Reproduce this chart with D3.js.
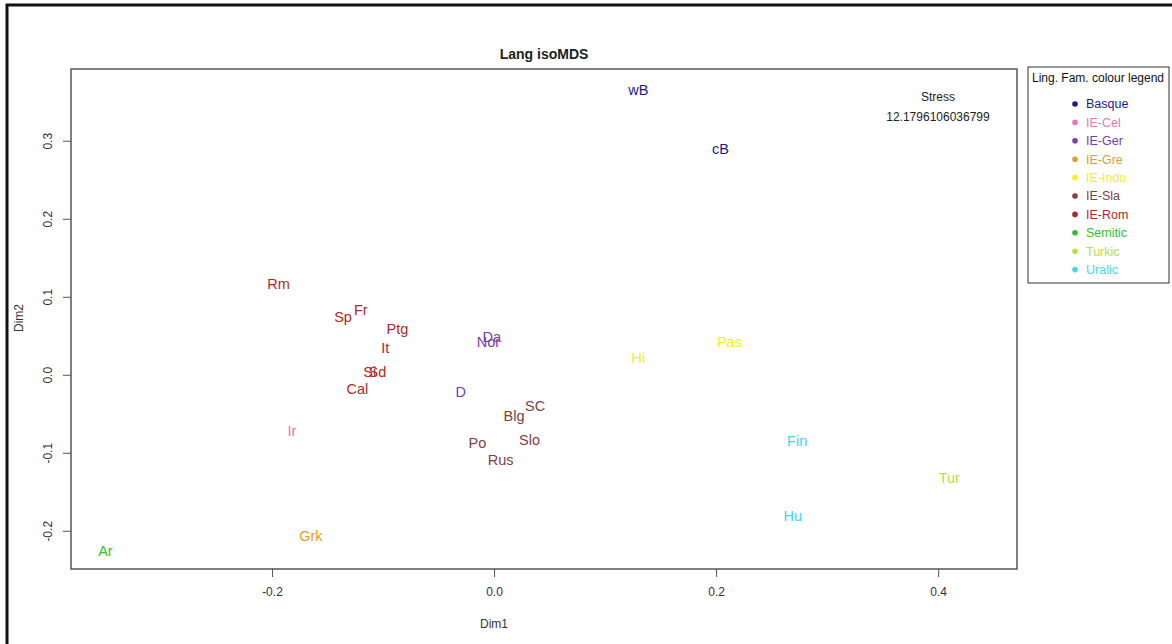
<!DOCTYPE html>
<html><head><meta charset="utf-8">
<script src="https://cdn.jsdelivr.net/npm/d3@7"></script>
<style>body{margin:0;background:#fff}svg{display:block;font-family:"Liberation Sans",Arial,sans-serif}</style>
</head><body><svg id="c" width="1172" height="644"></svg>
<script>
const labels = ["wB","cB","Rm","Sp","Fr","Ptg","It","Si","Sd","Cal","Ir","Grk","Ar","Da","Nor","D","Blg","SC","Slo","Po","Rus","Hi","Pas","Fin","Hu","Tur"];
const dim1 = [0.130,0.204,-0.194,-0.136,-0.120,-0.087,-0.098,-0.112,-0.105,-0.123,-0.182,-0.165,-0.350,-0.002,-0.005,-0.030,0.018,0.037,0.032,-0.015,0.006,0.130,0.212,0.273,0.269,0.410];
const dim2 = [0.365,0.290,0.117,0.074,0.083,0.059,0.035,0.004,0.004,-0.018,-0.072,-0.206,-0.226,0.049,0.042,-0.022,-0.053,-0.040,-0.083,-0.087,-0.109,0.021,0.042,-0.085,-0.181,-0.132];
const family = ["Basque","Basque","IE-Rom","IE-Rom","IE-Rom","IE-Rom","IE-Rom","IE-Rom","IE-Rom","IE-Rom","IE-Cel","IE-Gre","Semitic","IE-Ger","IE-Ger","IE-Ger","IE-Sla","IE-Sla","IE-Sla","IE-Sla","IE-Sla","IE-Indo","IE-Indo","Uralic","Uralic","Turkic"];
const families = ["Basque","IE-Cel","IE-Ger","IE-Gre","IE-Indo","IE-Sla","IE-Rom","Semitic","Turkic","Uralic"];
const famColors = ["#1c1c8a","#e07ab8","#7a3cb0","#d9a030","#f2f020","#84403f","#b02828","#30c030","#b4e040","#40d8e8"];
const xTicks = [-0.2,0.0,0.2,0.4];
const yTicks = [-0.2,-0.1,0.0,0.1,0.2,0.3];
const stressValue = "12.1796106036799";

const fmt = v => d3.format(".1f")(v).replace("\u2212","-");
const svg = d3.select("#c");
const L=71,R=1017,T=69,B=569;
const x = d3.scaleLinear().domain([-0.381,0.471]).range([L,R]);
const y = d3.scaleLinear().domain([-0.249,0.392]).range([B,T]);
const color = d3.scaleOrdinal().domain(families).range(famColors);

svg.append("rect").attr("x",7).attr("y",5).attr("width",1172).attr("height",650).attr("fill","none").attr("stroke","#111").attr("stroke-width",3);
svg.append("rect").attr("x",L).attr("y",T).attr("width",R-L).attr("height",B-T).attr("fill","none").attr("stroke","#555").attr("stroke-width",1.5);

const gx = svg.append("g").attr("transform",`translate(0,${B})`).call(d3.axisBottom(x).tickValues(xTicks).tickFormat(fmt).tickSize(8).tickPadding(10));
gx.select(".domain").remove();
gx.selectAll("line").attr("stroke","#555");
gx.selectAll("text").attr("font-size",12).attr("fill","#333");
const gy = svg.append("g").attr("transform",`translate(${L},0)`).call(d3.axisLeft(y).tickValues(yTicks).tickFormat(fmt).tickSize(8));
gy.select(".domain").remove();
gy.selectAll("line").attr("stroke","#555");
gy.selectAll("text").attr("font-size",12).attr("fill","#333").attr("text-anchor","middle").attr("dy",0).attr("x",0)
  .attr("transform","translate(-19,0) rotate(-90)");

svg.append("text").attr("x",(L+R)/2).attr("y",59).attr("text-anchor","middle").attr("font-weight","bold").attr("font-size",14).attr("fill","#222").text("Lang isoMDS");
svg.append("text").attr("x",494).attr("y",628).attr("text-anchor","middle").attr("font-size",12).attr("fill","#333").text("Dim1");
svg.append("text").attr("transform","translate(23,318) rotate(-90)").attr("text-anchor","middle").attr("font-size",12).attr("fill","#333").text("Dim2");

svg.append("text").attr("x",938).attr("y",101).attr("text-anchor","middle").attr("font-size",12).attr("fill","#222").text("Stress");
svg.append("text").attr("x",938).attr("y",121).attr("text-anchor","middle").attr("font-size",12).attr("fill","#222").text(stressValue);

svg.append("g").selectAll("text").data(labels).join("text")
  .attr("x",(d,i)=>x(dim1[i])).attr("y",(d,i)=>y(dim2[i]))
  .attr("text-anchor","middle").attr("dy","0.35em").attr("font-size",14.5)
  .attr("fill",(d,i)=>color(family[i])).text(d=>d);

const lg = svg.append("g");
lg.append("rect").attr("x",1028).attr("y",67).attr("width",141).attr("height",216).attr("fill","#fff").attr("stroke","#333").attr("stroke-width",1);
lg.append("text").attr("x",1098).attr("y",82).attr("text-anchor","middle").attr("font-size",12).attr("fill","#111").text("Ling. Fam. colour legend");
const items = lg.selectAll("g.it").data(families).join("g").attr("transform",(d,i)=>`translate(0,${104+i*18.4})`);
items.append("circle").attr("cx",1075).attr("cy",0).attr("r",2.8).attr("fill",d=>color(d));
items.append("text").attr("x",1086).attr("y",0).attr("dy","0.35em").attr("font-size",12.5).attr("fill",d=>color(d)).text(d=>d);
</script></body></html>
